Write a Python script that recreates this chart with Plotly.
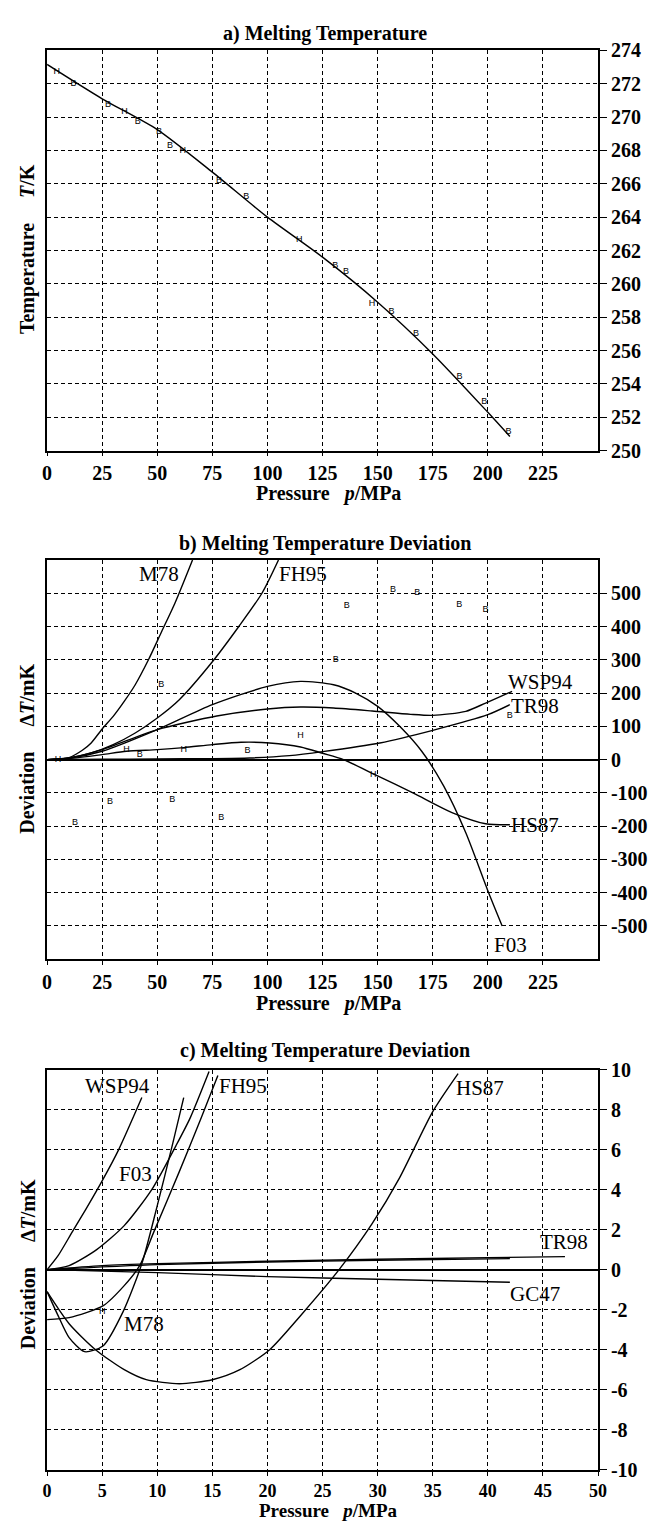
import plotly.graph_objects as go

W, H = 654, 1531
FONT = "Liberation Serif"

# ---------------- Panel a data ----------------
a_line_p = [0, 25, 50, 75, 100, 125, 150, 175, 200, 210]
a_line_T = [273.16, 271.1, 269.25, 266.7, 264.0, 261.6, 258.9, 255.8, 252.3, 250.85]
a_H_p = [4.4, 35.1, 61.6, 114.4, 147.4]
a_H_T = [272.7, 270.3, 268.0, 262.65, 258.8]
a_B_p = [12, 27.7, 41.2, 50.8, 55.8, 78, 90.4, 130.8, 135.6, 156.3, 167.4, 187.2, 198.4, 209.4]
a_B_T = [272.0, 270.75, 269.75, 269.1, 268.3, 266.2, 265.2, 261.1, 260.75, 258.3, 257.0, 254.4, 252.9, 251.1]
a_xticks = [0, 25, 50, 75, 100, 125, 150, 175, 200, 225]
a_yticks = [250, 252, 254, 256, 258, 260, 262, 264, 266, 268, 270, 272, 274]

# ---------------- Panel b data ----------------
b_M78_p = [0, 5, 10, 16, 20, 25, 30, 35, 40, 46, 52, 58, 66]
b_M78_v = [0, 1, 6, 28, 50, 92, 130, 175, 225, 300, 385, 470, 600]
b_FH95_p = [0, 10, 20, 30, 40, 50, 60, 75, 87, 97.5, 105]
b_FH95_v = [0, 5, 20, 45, 80, 125, 180, 294, 400, 500, 600]
b_F03_p = [0, 10, 25, 50, 75, 100, 115, 130, 140, 150, 160, 170, 180, 190, 200, 206.5]
b_F03_v = [0, 4, 25, 90, 165, 220, 235, 225, 200, 160, 100, 25, -80, -220, -394, -500]
b_WSP94_p = [0, 10, 25, 50, 77, 100, 115, 130, 147.5, 165, 175, 190, 199, 211]
b_WSP94_v = [0, 5, 30, 90, 131, 152, 158, 155, 146, 136, 133, 145, 170, 205]
b_TR98_p = [0, 25, 50, 75, 92, 110, 125, 151, 175, 200, 210]
b_TR98_v = [0, 1, 2, 3, 5, 12, 24, 50, 88, 135, 165]
b_HS87_p = [0, 10, 25, 36, 50, 62, 75, 88, 101, 115, 125, 134.5, 149, 166, 184, 199, 210]
b_HS87_v = [0, 3, 15, 25, 30, 36, 45, 52, 50, 38, 19, 0, -46, -100, -160, -193, -196]
b_H_p = [5, 36, 62, 115, 148]
b_H_v = [0, 31, 31, 72, -46]
b_B_p = [12.7, 28.6, 42, 51.8, 56.8, 79, 91, 131, 136, 157, 168, 187, 199, 210]
b_B_v = [-190, -126, 14, 226, -120, -175, 28, 300, 462, 512, 503, 465, 450, 131]
b_xticks = [0, 25, 50, 75, 100, 125, 150, 175, 200, 225]
b_yticks = [-500, -400, -300, -200, -100, 0, 100, 200, 300, 400, 500]

# ---------------- Panel c data ----------------
c_WSP94_p = [0, 1, 2.3, 3.5, 5.06, 6.5, 8.6]
c_WSP94_v = [0, 0.7, 1.9, 3.0, 4.5, 6.0, 8.6]
c_F03_p = [0, 2, 4.5, 7, 9.5, 11.7, 13, 14.7]
c_F03_v = [0, 0.2, 1.0, 2.2, 4.0, 6.2, 7.6, 9.9]
c_FH95_p = [0, 2, 5.1, 7, 8.4, 9.7, 12, 14, 15.5]
c_FH95_v = [-2.5, -2.4, -1.8, -0.8, 0.2, 1.9, 4.9, 7.6, 9.7]
c_M78_p = [0, 1, 2, 3.4, 5.1, 6.9, 8.6, 10, 11.4, 12.4]
c_M78_v = [-1.1, -2.3, -3.4, -4.1, -3.8, -2.1, 0.3, 3.2, 6.3, 8.6]
c_HS87_p = [0, 2, 4.4, 7, 9, 12, 15, 17.5, 20.2, 23, 26.5, 29.5, 32, 35, 37.3]
c_HS87_v = [-1.1, -2.7, -4.0, -5.0, -5.5, -5.7, -5.5, -5.0, -4.0, -2.3, 0, 2.3, 4.6, 7.9, 9.8]
c_TR98_p = [0, 5, 10, 20, 30, 40, 47]
c_TR98_v = [0, 0.2, 0.3, 0.42, 0.52, 0.6, 0.65]
c_X_p = [0, 10, 20, 30, 42]
c_X_v = [0, 0.25, 0.38, 0.47, 0.55]
c_GC47_p = [0, 10, 20, 30, 42]
c_GC47_v = [0, -0.15, -0.35, -0.48, -0.63]
c_H_p = [5]
c_H_v = [-2.1]
c_xticks = [0, 5, 10, 15, 20, 25, 30, 35, 40, 45, 50]
c_yticks = [-10, -8, -6, -4, -2, 0, 2, 4, 6, 8, 10]

fig = go.Figure()


def add_line(ax, p, v):
    fig.add_trace(go.Scatter(
        x=p, y=v, mode="lines",
        line=dict(color="black", width=1.4, shape="spline", smoothing=0.7),
        xaxis="x" + ax, yaxis="y" + ax, showlegend=False, hoverinfo="skip"))


def add_letters(ax, p, v, ch):
    fig.add_trace(go.Scatter(
        x=p, y=v, mode="text", text=[ch] * len(p),
        textfont=dict(family="Liberation Sans", size=9, color="#000000"),
        xaxis="x" + ax, yaxis="y" + ax, showlegend=False, hoverinfo="skip"))


# panel a
add_line("", a_line_p, a_line_T)
add_letters("", a_H_p, a_H_T, "H")
add_letters("", a_B_p, a_B_T, "B")

# panel b
for p, v in [(b_M78_p, b_M78_v), (b_FH95_p, b_FH95_v), (b_F03_p, b_F03_v),
             (b_WSP94_p, b_WSP94_v), (b_TR98_p, b_TR98_v), (b_HS87_p, b_HS87_v)]:
    add_line("2", p, v)
add_letters("2", b_H_p, b_H_v, "H")
add_letters("2", b_B_p, b_B_v, "B")

# panel c
for p, v in [(c_WSP94_p, c_WSP94_v), (c_F03_p, c_F03_v), (c_FH95_p, c_FH95_v),
             (c_M78_p, c_M78_v), (c_HS87_p, c_HS87_v), (c_TR98_p, c_TR98_v),
             (c_X_p, c_X_v), (c_GC47_p, c_GC47_v)]:
    add_line("3", p, v)
add_letters("3", c_H_p, c_H_v, "H")


def py(pix):
    return 1 - pix / H


def pxx(pix):
    return pix / W


XDOM = [pxx(43), pxx(606)]
tickfont = dict(family=FONT, size=20, color="black", weight="bold")
tickfont_c = dict(family=FONT, size=18, color="black", weight="bold")


def xaxis(anchor, rng, ticks, tf):
    return dict(domain=XDOM, anchor=anchor, range=rng, tickvals=ticks,
                ticktext=[str(t) for t in ticks],
                showline=True, linecolor="black", linewidth=1.8, mirror=True,
                ticks="outside", ticklen=4, tickcolor="black", tickwidth=1.2,
                showgrid=True, gridcolor="black", gridwidth=1.2, griddash="4px,3px",
                zeroline=False, tickfont=tf, fixedrange=True)


def yaxis(anchor, dom, rng, ticks, zero):
    return dict(domain=dom, anchor=anchor, range=rng, side="right", tickvals=ticks,
                ticktext=[str(t) for t in ticks],
                showline=True, linecolor="black", linewidth=1.8, mirror=True,
                ticks="outside", ticklen=7, tickcolor="black", tickwidth=1.2,
                showgrid=True, gridcolor="black", gridwidth=1.2, griddash="4px,3px",
                zeroline=zero, zerolinecolor="black", zerolinewidth=1.8,
                tickfont=tickfont, fixedrange=True)


fig.update_layout(
    width=W, height=H, margin=dict(l=0, r=0, t=0, b=0),
    paper_bgcolor="white", plot_bgcolor="white",
    xaxis=xaxis("y", [0, 250], a_xticks, tickfont),
    yaxis=yaxis("x", [py(446), py(40)], [250, 274], a_yticks, False),
    xaxis2=xaxis("y2", [0, 250], b_xticks, tickfont),
    yaxis2=yaxis("x2", [py(962), py(557)], [-600, 600], b_yticks, True),
    xaxis3=xaxis("y3", [0, 50], c_xticks, tickfont_c),
    yaxis3=yaxis("x3", [py(1480), py(1074)], [-10, 10], c_yticks, True),
)

ann = []
titlefont = dict(family=FONT, size=20, color="black", weight="bold")
for txt, ypix in [("a) Melting Temperature", 23), ("b) Melting Temperature Deviation", 540),
                  ("c) Melting Temperature Deviation", 1055)]:
    ann.append(dict(text=txt, x=pxx(327), y=py(ypix), xref="paper", yref="paper",
                    showarrow=False, font=titlefont, xanchor="center", yanchor="middle"))
for ypix, sz in [(490, 20), (1007, 20), (1521, 19)]:
    ann.append(dict(text="Pressure   <i>p</i>/MPa", x=pxx(331), y=py(ypix), xref="paper",
                    yref="paper", showarrow=False,
                    font=dict(family=FONT, size=sz, color="black", weight="bold"),
                    xanchor="center", yanchor="middle"))
for txt, ypix in [("Temperature     <i>T</i>/K", 242), ("Deviation     Δ<i>T</i>/mK", 749),
                  ("Deviation     Δ<i>T</i>/mK", 1272)]:
    ann.append(dict(text=txt, x=pxx(23), y=py(ypix), xref="paper", yref="paper",
                    showarrow=False, font=titlefont, textangle=-90, xanchor="center",
                    yanchor="middle"))

labfont = dict(family=FONT, size=21, color="black")
b_labels = [("M78", 51, 559), ("FH95", 116, 559), ("WSP94", 224, 234), ("TR98", 221.6, 162),
            ("HS87", 221.6, -197), ("F03", 210.5, -556)]
for t, x, y in b_labels:
    ann.append(dict(text=t, x=x, y=y, xref="x2", yref="y2", showarrow=False, font=labfont))
c_labels = [("WSP94", 6.4, 9.2), ("F03", 8.0, 4.8), ("FH95", 17.8, 9.2), ("HS87", 39.3, 9.1),
            ("TR98", 46.9, 1.4), ("GC47", 44.3, -1.2), ("M78", 8.8, -2.7)]
for t, x, y in c_labels:
    ann.append(dict(text=t, x=x, y=y, xref="x3", yref="y3", showarrow=False, font=labfont))

fig.update_layout(annotations=ann)
fig.write_html("out.html")
